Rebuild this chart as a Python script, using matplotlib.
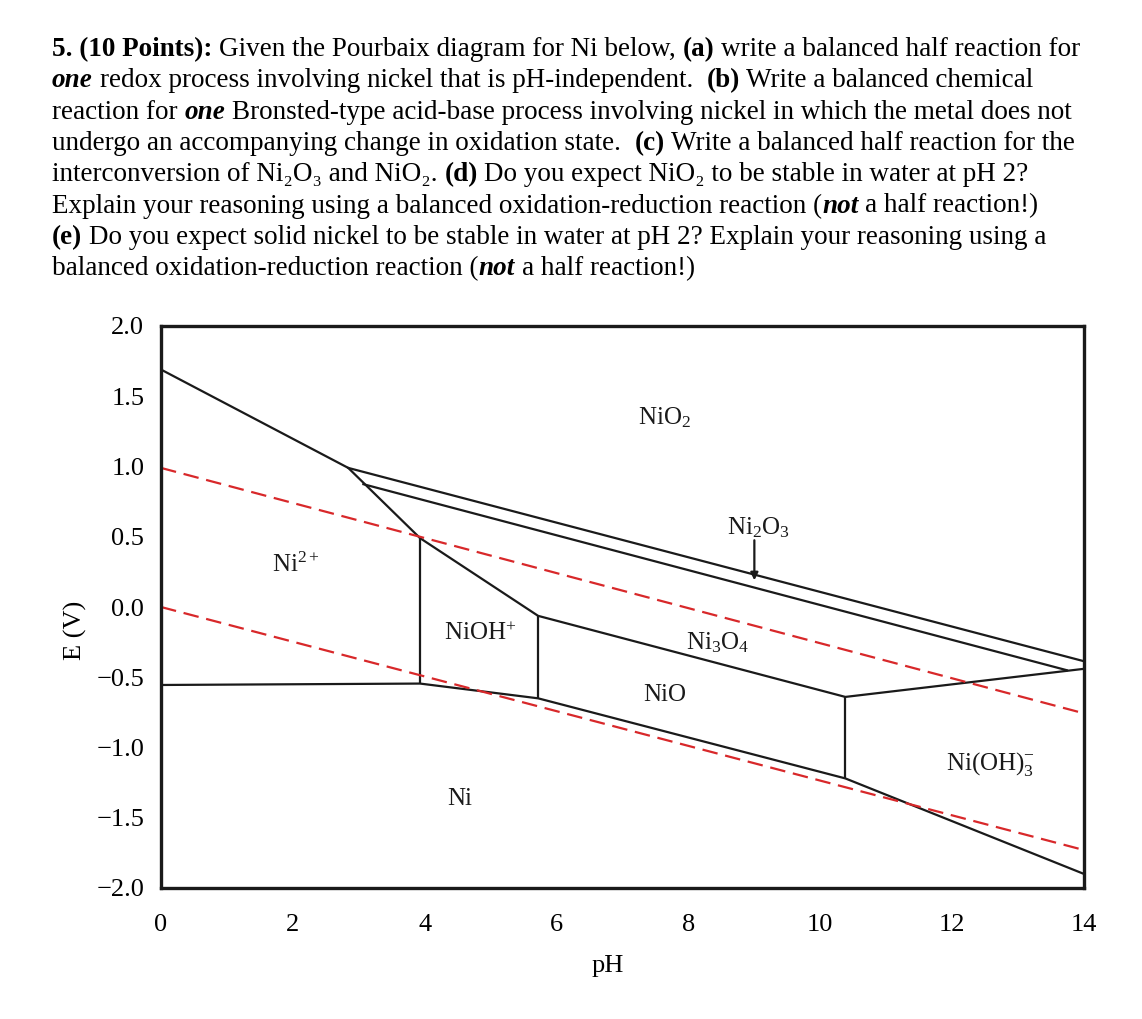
import matplotlib
matplotlib.use("Agg")
import matplotlib.pyplot as plt

plt.rcParams['font.family'] = ['Liberation Serif', 'DejaVu Serif']
plt.rcParams['mathtext.fontset'] = 'custom'
plt.rcParams['mathtext.rm'] = 'Liberation Serif'
plt.rcParams['mathtext.it'] = 'Liberation Serif:italic'
plt.rcParams['mathtext.bf'] = 'Liberation Serif:bold'

# --- Pourbaix boundaries for Ni (pH, E in V) ---
upper_ph = [0.0, 2.84, 3.93, 5.72, 10.38, 14.0]
upper_E = [1.69, 0.99, 0.49, -0.063, -0.64, -0.44]

nio2_ph = [2.84, 14.0]
nio2_E = [0.99, -0.386]

ni2o3_ph = [3.07, 13.74]
ni2o3_E = [0.874, -0.45]

ni_ph = [0.0, 3.93, 5.72, 10.38, 14.0]
ni_E = [-0.555, -0.545, -0.65, -1.22, -1.90]

vert_ph = [3.93, 5.72, 10.38]
vert_top = [0.49, -0.063, -0.64]
vert_bot = [-0.545, -0.65, -1.22]

o2_ph = [0.0, 14.0]
o2_E = [0.99, -0.757]
h2_ph = [0.0, 14.0]
h2_E = [0.0, -1.73]

region_names = ['NiO$_2$', 'Ni$_2$O$_3$', 'Ni$_3$O$_4$', 'NiO', 'Ni$^{2+}$',
                'NiOH$^{+}$', 'Ni(OH)$_3^{-}$', 'Ni']
region_ph = [7.24, 8.58, 7.96, 7.31, 1.69, 4.30, 11.91, 4.34]
region_E = [1.30, 0.52, -0.305, -0.67, 0.25, -0.233, -1.16, -1.41]

xticks = [0, 2, 4, 6, 8, 10, 12, 14]
yticks = [2.0, 1.5, 1.0, 0.5, 0.0, -0.5, -1.0, -1.5, -2.0]

question = [
    [("5. (10 Points):", "bold", "normal"), (" Given the Pourbaix diagram for Ni below, ", "normal", "normal"),
     ("(a)", "bold", "normal"), (" write a balanced half reaction for", "normal", "normal")],
    [("one", "bold", "italic"), (" redox process involving nickel that is pH-independent.  ", "normal", "normal"),
     ("(b)", "bold", "normal"), (" Write a balanced chemical", "normal", "normal")],
    [("reaction for ", "normal", "normal"), ("one", "bold", "italic"),
     (" Bronsted-type acid-base process involving nickel in which the metal does not", "normal", "normal")],
    [("undergo an accompanying change in oxidation state.  ", "normal", "normal"), ("(c)", "bold", "normal"),
     (" Write a balanced half reaction for the", "normal", "normal")],
    [("interconversion of Ni\u2082O\u2083 and NiO\u2082. ", "normal", "normal"), ("(d)", "bold", "normal"),
     (" Do you expect NiO\u2082 to be stable in water at pH 2?", "normal", "normal")],
    [("Explain your reasoning using a balanced oxidation-reduction reaction (", "normal", "normal"),
     ("not", "bold", "italic"), (" a half reaction!)", "normal", "normal")],
    [("(e)", "bold", "normal"),
     (" Do you expect solid nickel to be stable in water at pH 2? Explain your reasoning using a", "normal", "normal")],
    [("balanced oxidation-reduction reaction (", "normal", "normal"), ("not", "bold", "italic"),
     (" a half reaction!)", "normal", "normal")],
]

W, H = 1142, 1019
fig = plt.figure(figsize=(W / 100, H / 100), dpi=100)
renderer = fig.canvas.get_renderer()
TXT = 19.5


def text_width(s, weight, style):
    t = fig.text(0, 0, s, fontsize=TXT, fontweight=weight, fontstyle=style)
    w = t.get_window_extent(renderer).width
    t.remove()
    return w


space_w = text_width("a a", "normal", "normal") - text_width("aa", "normal", "normal")

y0, dy = 56, 31.3
for i, runs in enumerate(question):
    x = 52.0
    y = y0 + i * dy
    for s, weight, style in runs:
        lead = len(s) - len(s.lstrip(" "))
        trail = len(s) - len(s.rstrip(" "))
        core = s.strip(" ")
        x += lead * space_w
        fig.text(x / W, 1 - y / H, core, fontsize=TXT, fontweight=weight, fontstyle=style,
                 ha="left", va="baseline")
        x += text_width(core, weight, style) + trail * space_w

ax = fig.add_axes([161 / W, 1 - 888 / H, (1084 - 161) / W, (888 - 326) / H])

ax.plot(upper_ph, upper_E, color="#1a1a1a", lw=1.6)
ax.plot(nio2_ph, nio2_E, color="#1a1a1a", lw=1.6)
ax.plot(ni2o3_ph, ni2o3_E, color="#1a1a1a", lw=1.6)
ax.plot(ni_ph, ni_E, color="#1a1a1a", lw=1.6)
ax.vlines(vert_ph, vert_bot, vert_top, color="#1a1a1a", lw=1.6)

ax.plot(o2_ph, o2_E, color="#d8282a", lw=1.6, dashes=(7, 3.5))
ax.plot(h2_ph, h2_E, color="#d8282a", lw=1.6, dashes=(7, 3.5))

for name, px, pe in zip(region_names, region_ph, region_E):
    ax.text(px, pe, name, fontsize=18, ha="left", va="baseline", color="#1a1a1a")

ax.annotate("", xy=(9.0, 0.19), xytext=(9.0, 0.475),
            arrowprops=dict(arrowstyle="-|>", color="#1a1a1a", lw=1.6,
                            mutation_scale=11, shrinkA=0, shrinkB=0))

ax.set_xlim(0, 14)
ax.set_ylim(-2.0, 2.0)
ax.set_xticks(xticks)
ax.set_yticks(yticks)
ax.set_yticklabels([f"{v:.1f}".replace("-", "\u2212") for v in yticks])
ax.tick_params(length=0, labelsize=19)
ax.tick_params(axis="x", pad=19)
ax.tick_params(axis="y", pad=12)
for sp in ax.spines.values():
    sp.set_linewidth(2.4)
    sp.set_color("#1a1a1a")

ax.set_xlabel("pH", fontsize=19)
ax.set_ylabel("E (V)", fontsize=19)
ax.xaxis.set_label_coords((608 - 161) / 923, (888 - 955) / 562)
ax.yaxis.set_label_coords((87 - 161) / 923, (888 - 630) / 562)

fig.savefig("out.png", dpi=100)
